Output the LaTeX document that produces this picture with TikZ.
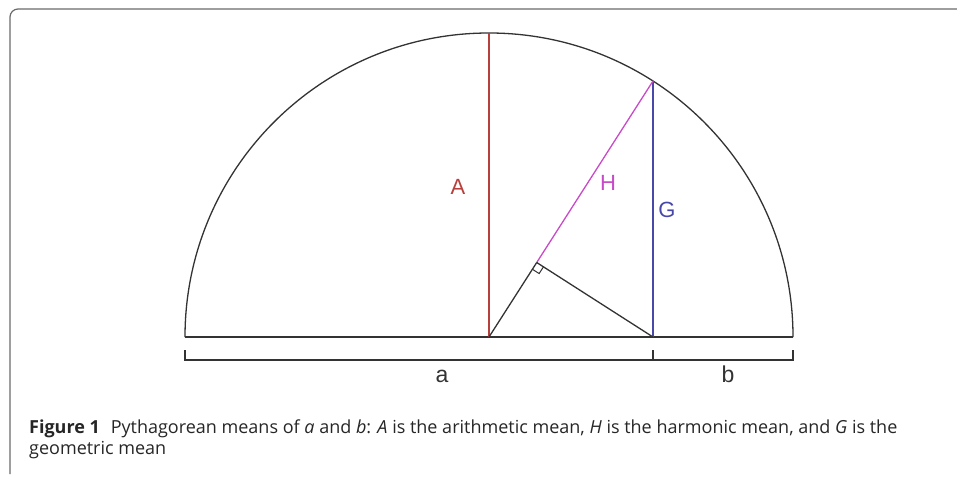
\documentclass[tikz,border=0pt]{standalone}
\usepackage{fontspec}
\setmainfont{Open Sans}
\newfontfamily\labelfont{Liberation Sans}
\usetikzlibrary{calc, positioning}
\definecolor{meanred}{HTML}{B8403C}
\definecolor{meanmagenta}{HTML}{C84AC8}
\definecolor{meanblue}{HTML}{4848A8}
\definecolor{framegray}{HTML}{6A6A6A}
\tikzset{
	baseline/.style={
			draw=black!80,
			line width=1.3pt
		},
	meanline/.style={
			line width=1.3pt
		},
	meanlabel/.style={
			font=\labelfont\fontsize{22}{22}\selectfont,
			inner sep=0pt
		},
	lengthlabel/.style={
			meanlabel,
			font=\labelfont\fontsize{23}{23}\selectfont,
			text=black!80
		},
	captionnode/.style={
			font=\fontsize{18}{21}\selectfont,
			text=black!85,
			align=left,
			anchor=base west,
			inner sep=0pt
		}
}

\begin{document}
\begin{tikzpicture}[x=1pt, y=-1pt]
\useasboundingbox (0,0) rectangle (957,476);
\draw[framegray, line width=1.2pt, rounded corners=8pt] (10,474) -- (10,9) -- (957,9);

\coordinate (L) at (185,337);
\coordinate (O) at (489,337);
\coordinate (Q) at (653,337);
\coordinate (R) at (793,337);
\coordinate (P) at (653,81);
\coordinate (F) at ($(O)!(Q)!(P)$);
\coordinate (T) at (489,33);

\draw[baseline] (R) arc[start angle=0, end angle=-180, radius=304];
\draw[baseline] (L) -- (R);

\draw[meanline, meanred] (O) -- (T);
\draw[meanline, meanblue] (Q) -- (P);
\draw[meanline, meanmagenta] (F) -- (P);
\draw[baseline] (O) -- (F);
\draw[baseline] (F) -- (Q);

% right angle mark
\coordinate (m1) at ($(F)!8pt!(Q)$);
\coordinate (m2) at ($(F)!8pt!(O)$);
\draw[draw=black!80, line width=1pt] (m1) -- ($(m1)+(m2)-(F)$) -- (m2);

% lengths a and b
\coordinate (ba) at (185,360);
\coordinate (bq) at (653,360);
\coordinate (bb) at (793,360);
\draw[baseline] ($(ba)+(0,-10)$) -- (ba) -- (bb) -- ($(bb)+(0,-10)$);
\draw[baseline] (bq) -- ($(bq)+(0,-10)$);

\node[meanlabel, text=meanred] (labA) at (458,187) {A};
\node[meanlabel, text=meanmagenta] (labH) at (608,183) {H};
\node[meanlabel, text=meanblue] (labG) at (667,210) {G};
\node[lengthlabel] (laba) at (442,376) {a};
\node[lengthlabel] (labb) at (728,374) {b};

\node[captionnode] (caption) at (29,454) {\textbf{Figure 1}\hspace{0.6em}Pythagorean means of \textit{a} and \textit{b}: \textit{A} is the arithmetic mean, \textit{H} is the harmonic mean, and \textit{G} is the\\geometric mean};
\end{tikzpicture}
\end{document}
